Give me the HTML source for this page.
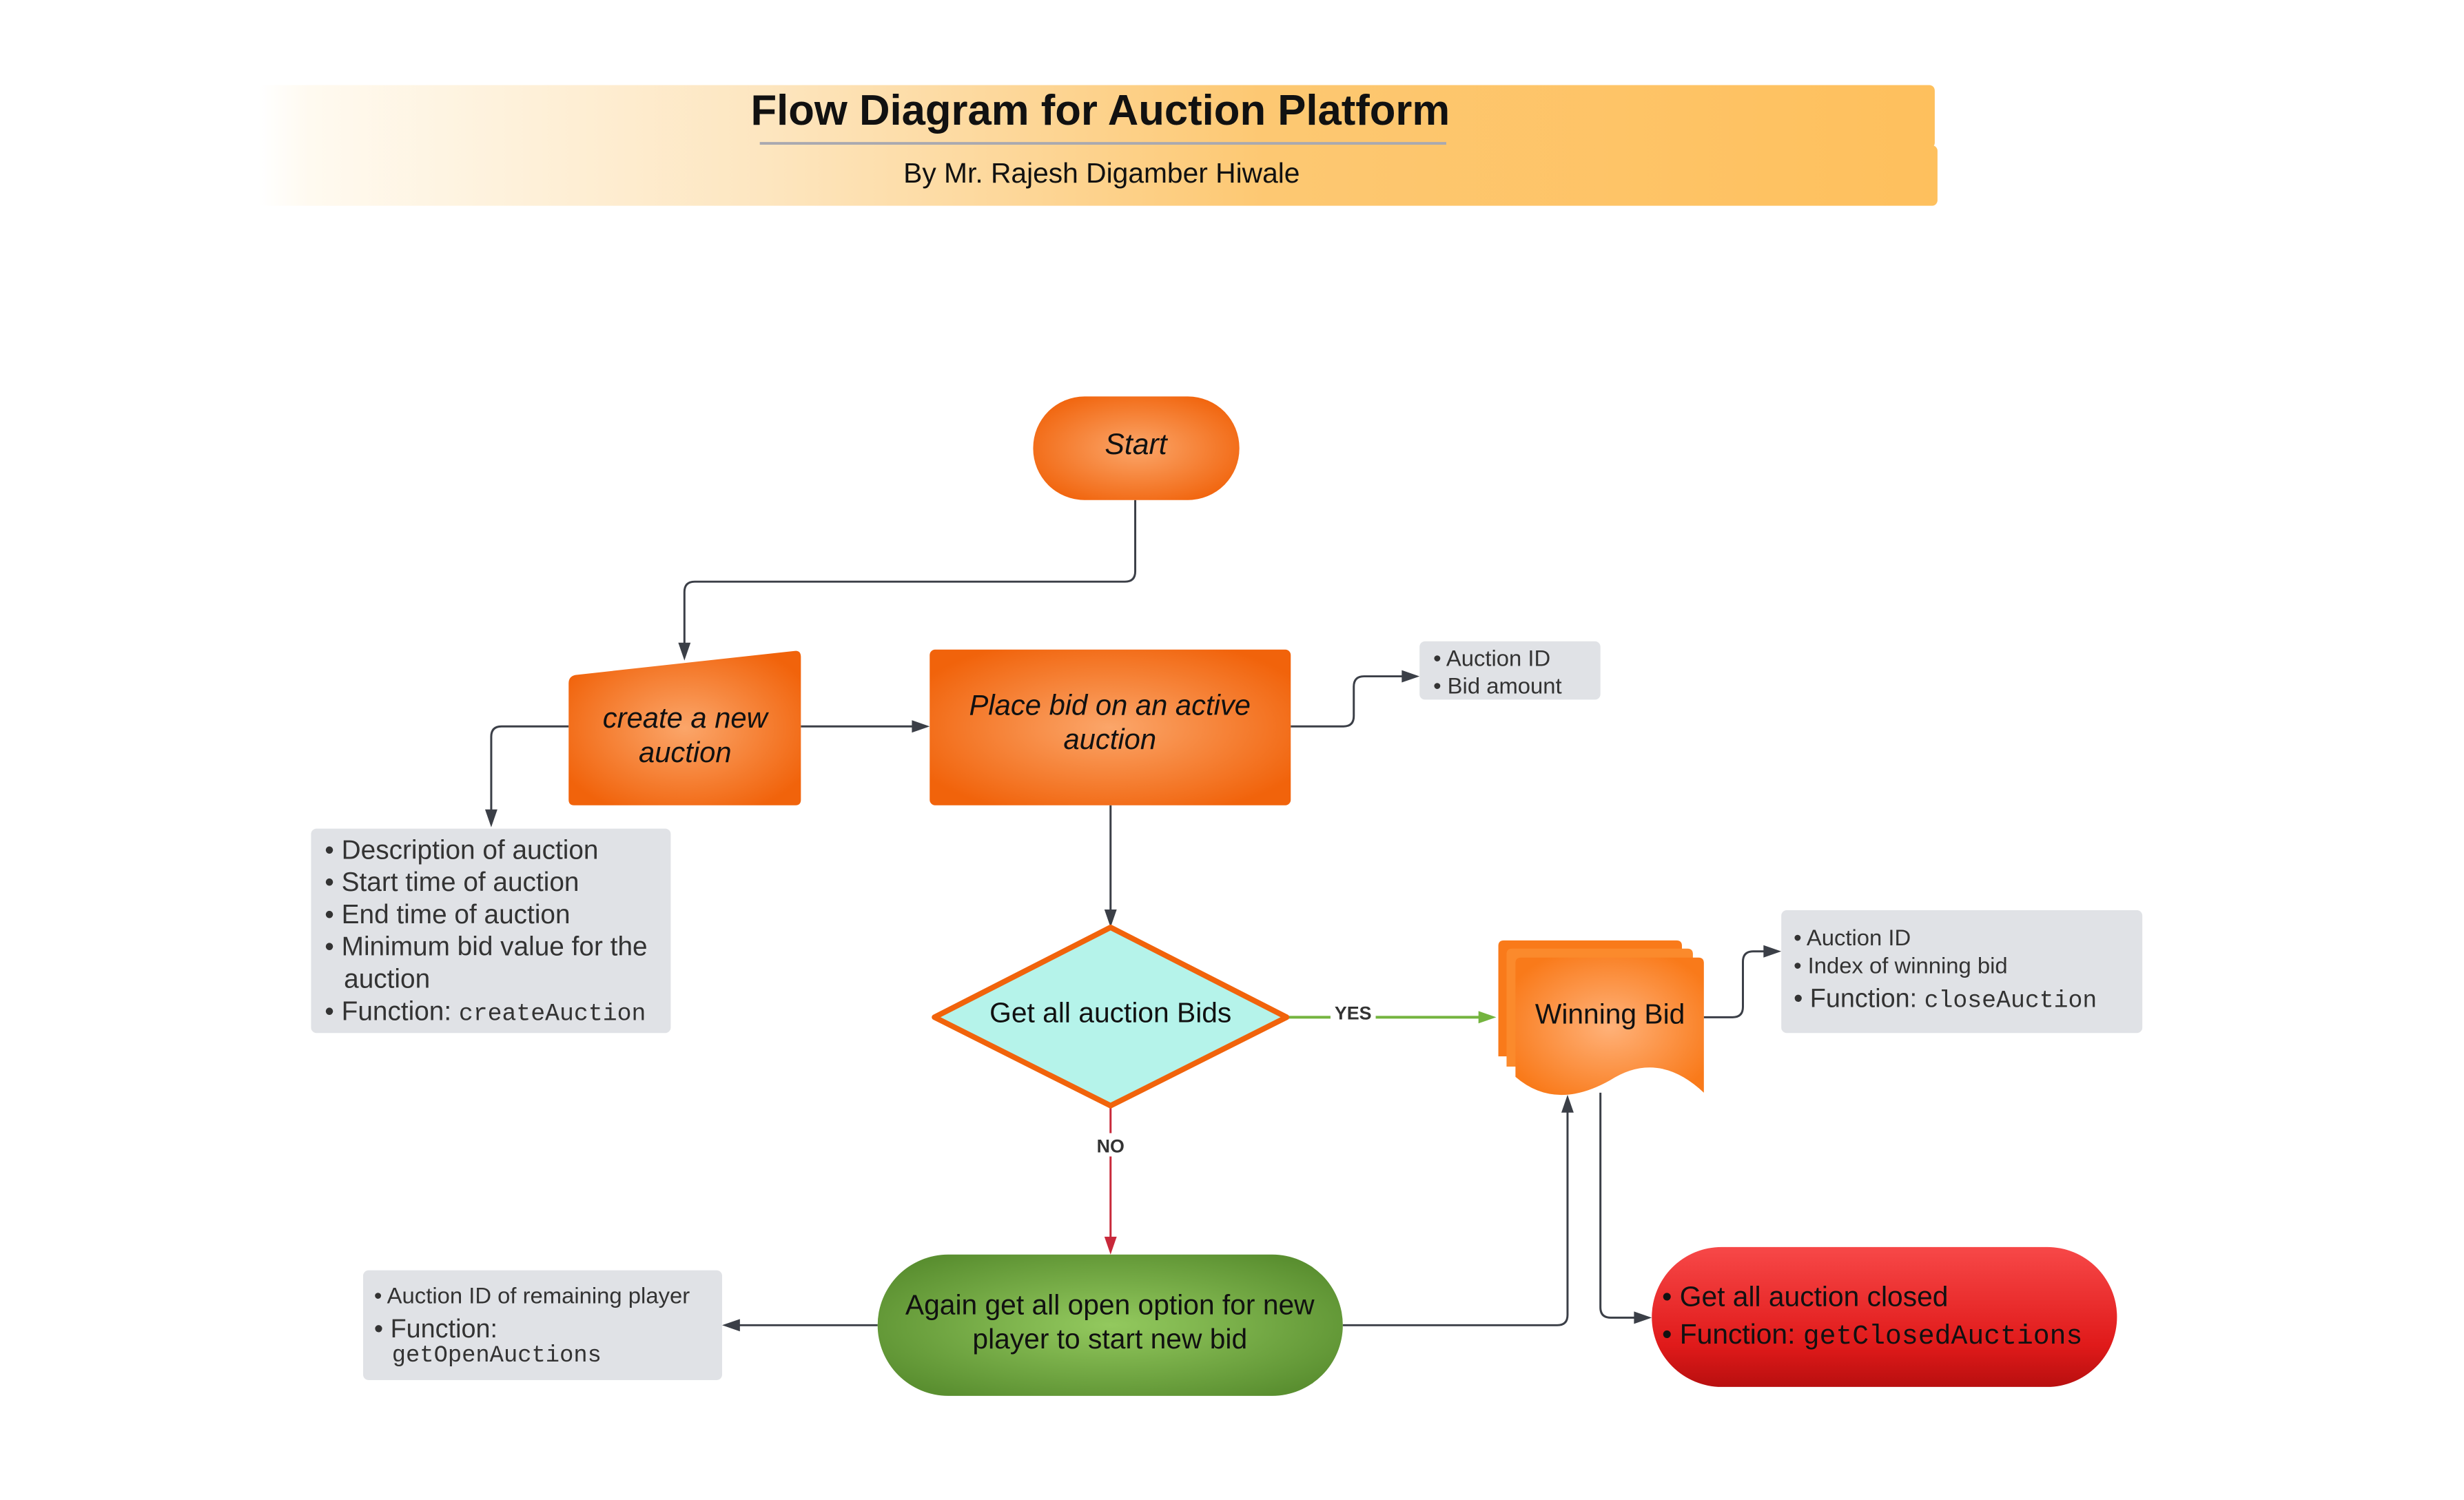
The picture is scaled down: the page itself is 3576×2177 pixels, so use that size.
<!DOCTYPE html>
<html><head><meta charset="utf-8"><style>
html,body{margin:0;padding:0;background:#fff}
svg{display:block}
text{font-family:"Liberation Sans",sans-serif}
.m{font-family:"Liberation Mono",monospace}
</style></head><body>
<svg width="3576" height="2177" viewBox="0 0 3576 2177" xmlns="http://www.w3.org/2000/svg">
<defs>
<linearGradient id="hdr" x1="0" x2="1" y1="0" y2="0">
<stop offset="0" stop-color="#fff" stop-opacity="1"/>
<stop offset="0.03" stop-color="#fffaf0"/>
<stop offset="0.3" stop-color="#fde6c0"/>
<stop offset="0.6" stop-color="#fdc872"/>
<stop offset="1" stop-color="#fec05d"/>
</linearGradient>
<radialGradient id="org" cx="0.5" cy="0.5" r="0.6">
<stop offset="0" stop-color="#fba66a"/>
<stop offset="1" stop-color="#f1630b"/>
</radialGradient>
<radialGradient id="orgw" cx="0.5" cy="0.5" r="0.6">
<stop offset="0" stop-color="#ffb27a"/>
<stop offset="1" stop-color="#f97a1a"/>
</radialGradient>
<radialGradient id="grn" cx="0.5" cy="0.5" r="0.6">
<stop offset="0" stop-color="#93c95e"/>
<stop offset="1" stop-color="#5a8f30"/>
</radialGradient>
<linearGradient id="red" x1="0" x2="0" y1="0" y2="1">
<stop offset="0" stop-color="#f74848"/>
<stop offset="0.7" stop-color="#e01a1a"/>
<stop offset="1" stop-color="#b80f0f"/>
</linearGradient>
</defs>
<g transform="scale(0.9943,0.9955)">
<!-- header -->
<rect x="378" y="124" width="2446" height="92" rx="8" fill="url(#hdr)"/>
<rect x="378" y="212" width="2450" height="88" rx="8" fill="url(#hdr)"/>
<text x="1606" y="182" font-size="62" font-weight="bold" text-anchor="middle" fill="#111">Flow Diagram for Auction Platform</text>
<line x1="1109" y1="209" x2="2111" y2="209" stroke="#a9a9b0" stroke-width="4"/>
<text x="1608" y="266" font-size="41" text-anchor="middle" fill="#111">By Mr. Rajesh Digamber Hiwale</text>

<!-- connectors -->
<g fill="none" stroke="#3b3f47" stroke-width="3">
<path d="M1657 729 V833 Q1657 848 1642 848 H1014 Q999 848 999 863 V940"/>
<path d="M1169 1059 H1335"/>
<path d="M1884 1059 H1961 Q1976 1059 1976 1044 V1001 Q1976 986 1991 986 H2050"/>
<path d="M830 1059 H732 Q717 1059 717 1074 V1183"/>
<path d="M1621 1174 V1328"/>
<path d="M2487 1483 H2529 Q2544 1483 2544 1468 V1402 Q2544 1387 2559 1387 H2578"/>
<path d="M1281 1932 H1076"/>
<path d="M1960 1932 H2273 Q2288 1932 2288 1917 V1620"/>
<path d="M2336 1593 V1906 Q2336 1921 2351 1921 H2389"/>
</g>
<g fill="#3b3f47">
<polygon points="999,963 990,937 1008,937"/>
<polygon points="1357,1059 1331,1050 1331,1068"/>
<polygon points="2072,986 2046,977 2046,995"/>
<polygon points="717,1206 708,1180 726,1180"/>
<polygon points="1621,1352 1612,1326 1630,1326"/>
<polygon points="2600,1387 2574,1378 2574,1396"/>
<polygon points="1054,1932 1080,1923 1080,1941"/>
<polygon points="2288,1596 2279,1622 2297,1622"/>
<polygon points="2411,1921 2385,1912 2385,1930"/>
</g>
<!-- YES / NO -->
<path d="M1880 1483 H2160" stroke="#74b43f" stroke-width="4" fill="none"/>
<polygon points="2184,1483 2158,1474 2158,1492" fill="#74b43f"/>
<rect x="1942" y="1466" width="66" height="32" fill="#fff"/>
<text x="1975" y="1486" font-size="27" font-weight="bold" text-anchor="middle" fill="#333">YES</text>
<path d="M1621 1614 V1805" stroke="#c8283a" stroke-width="3" fill="none"/>
<polygon points="1621,1829 1612,1803 1630,1803" fill="#c8283a"/>
<rect x="1595" y="1652" width="52" height="34" fill="#fff"/>
<text x="1621" y="1680" font-size="27" font-weight="bold" text-anchor="middle" fill="#333">NO</text>

<!-- Start -->
<rect x="1508" y="578" width="301" height="151" rx="75" fill="url(#org)"/>
<text x="1658" y="662" font-size="43" font-style="italic" text-anchor="middle" fill="#111">Start</text>

<!-- create new auction -->
<path d="M830 996 Q830 986 840 984 L1160 949 Q1169 948 1169 958 V1166 Q1169 1174 1161 1174 H838 Q830 1174 830 1166 Z" fill="url(#org)"/>
<text x="1000" y="1061" font-size="42" font-style="italic" text-anchor="middle" fill="#111">create a new</text>
<text x="1000" y="1111" font-size="42" font-style="italic" text-anchor="middle" fill="#111">auction</text>

<!-- Place bid -->
<rect x="1357" y="947" width="527" height="227" rx="8" fill="url(#org)"/>
<text x="1620" y="1042" font-size="42" font-style="italic" text-anchor="middle" fill="#111">Place bid on an active</text>
<text x="1620" y="1092" font-size="42" font-style="italic" text-anchor="middle" fill="#111">auction</text>

<!-- Auction ID box -->
<rect x="2072" y="935" width="264" height="85" rx="8" fill="#e0e2e6"/>
<text x="2092" y="971" font-size="33" fill="#333">• Auction ID</text>
<text x="2092" y="1011" font-size="33" fill="#333">• Bid amount</text>

<!-- desc box -->
<rect x="454" y="1208" width="525" height="298" rx="8" fill="#e0e2e6"/>
<g font-size="39" fill="#333">
<text x="474" y="1252">• Description of auction</text>
<text x="474" y="1299">• Start time of auction</text>
<text x="474" y="1346">• End time of auction</text>
<text x="474" y="1393">• Minimum bid value for the</text>
<text x="502" y="1440">auction</text>
<text x="474" y="1487">• Function: <tspan class="m" font-size="35">createAuction</tspan></text>
</g>

<!-- diamond -->
<polygon points="1621,1352 1878,1483 1621,1612 1364,1483" fill="#b5f3ea" stroke="#f1630b" stroke-width="8" stroke-linejoin="round"/>
<text x="1621" y="1490" font-size="41" text-anchor="middle" fill="#111">Get all auction Bids</text>

<!-- Winning bid stack -->
<g>
<path d="M2187 1379 Q2187 1371 2195 1371 H2447 Q2455 1371 2455 1379 V1540 H2187 Z" fill="#f97a1a"/>
<path d="M2199 1391 Q2199 1383 2207 1383 H2463 Q2471 1383 2471 1391 V1555 H2199 Z" fill="#fb8a2c"/>
<path d="M2212 1404 Q2212 1396 2220 1396 H2479 Q2487 1396 2487 1404 V1593 Q2420 1530 2350 1575 Q2270 1620 2212 1570 Z" fill="url(#orgw)"/>
<text x="2350" y="1492" font-size="41" text-anchor="middle" fill="#111">Winning Bid</text>
</g>

<!-- right box -->
<rect x="2600" y="1327" width="527" height="179" rx="8" fill="#e0e2e6"/>
<g fill="#333">
<text x="2618" y="1378" font-size="33">• Auction ID</text>
<text x="2618" y="1419" font-size="33">• Index of winning bid</text>
<text x="2618" y="1468" font-size="38">• Function: <tspan class="m" font-size="35">closeAuction</tspan></text>
</g>

<!-- green -->
<rect x="1281" y="1829" width="679" height="206" rx="103" fill="url(#grn)"/>
<text x="1620" y="1916" font-size="41" text-anchor="middle" fill="#111">Again get all open option for new</text>
<text x="1620" y="1966" font-size="41" text-anchor="middle" fill="#111">player to start new bid</text>

<!-- bottom-left box -->
<rect x="530" y="1852" width="524" height="160" rx="8" fill="#e0e2e6"/>
<g fill="#333">
<text x="546" y="1900" font-size="33">• Auction ID of remaining player</text>
<text x="546" y="1950" font-size="38">• Function:</text>
<text x="572" y="1985" class="m" font-size="34">getOpenAuctions</text>
</g>

<!-- red -->
<rect x="2411" y="1818" width="679" height="204" rx="102" fill="url(#red)"/>
<g fill="#111">
<text x="2426" y="1904" font-size="41">• Get all auction closed</text>
<text x="2426" y="1959" font-size="41">• Function: <tspan class="m" font-size="40">getClosedAuctions</tspan></text>
</g>
</g>
</svg>
</body></html>
